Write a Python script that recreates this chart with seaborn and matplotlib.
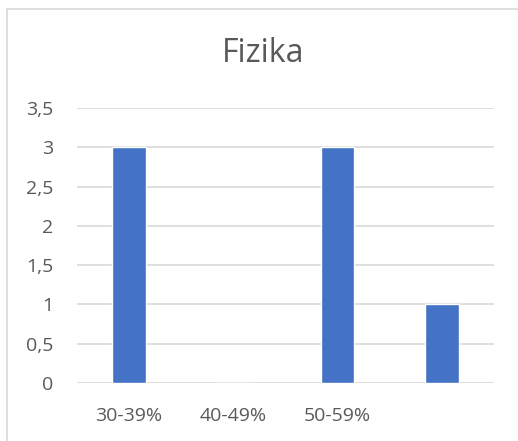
import matplotlib
matplotlib.use("Agg")
import matplotlib.pyplot as plt
import matplotlib.ticker as mticker
import pandas as pd
import seaborn as sns

# data
categories = ["30-39%", "40-49%", "50-59%", ""]
counts = [3, 0, 3, 1]

sns.set_theme(style="white")
plt.rcParams['font.family'] = ['Open Sans', 'DejaVu Sans']

df = pd.DataFrame({"range": categories, "count": counts})

fig = plt.figure(figsize=(5.18, 4.41), dpi=100)
ax = fig.add_axes([77/518, (441-383)/441, 417/518, 275/441])

sns.barplot(data=df, x="range", y="count", color="#4472C4", width=0.32,
            saturation=1, ax=ax, zorder=3)

ax.set_ylim(0, 3.5)
ax.yaxis.set_major_locator(mticker.MultipleLocator(0.5))
ax.yaxis.set_major_formatter(mticker.FuncFormatter(
    lambda v, p: ("%g" % v).replace(".", ",")))
ax.grid(axis="y", color="#D9D9D9", linewidth=1.2, zorder=0)
ax.grid(axis="x", visible=False)
for s in ax.spines.values():
    s.set_visible(False)
ax.set_xlabel("")
ax.set_ylabel("")
ax.tick_params(axis="y", length=0, pad=17, labelsize=14, labelcolor="#595959")
ax.tick_params(axis="x", length=0, pad=17, labelsize=14, labelcolor="#595959")

fig.text(263/518, 1 - 54/441, "Fizika", ha="center", va="center",
         fontsize=23, color="#595959")

# chart frame (cut off at right and bottom like the reference)
fig.add_artist(plt.Line2D([7/518, 7/518], [0, 1 - 9/441], color="#D9D9D9", lw=1.2))
fig.add_artist(plt.Line2D([7/518, 1], [1 - 9/441, 1 - 9/441], color="#D9D9D9", lw=1.2))

fig.savefig("out.png", dpi=100)
